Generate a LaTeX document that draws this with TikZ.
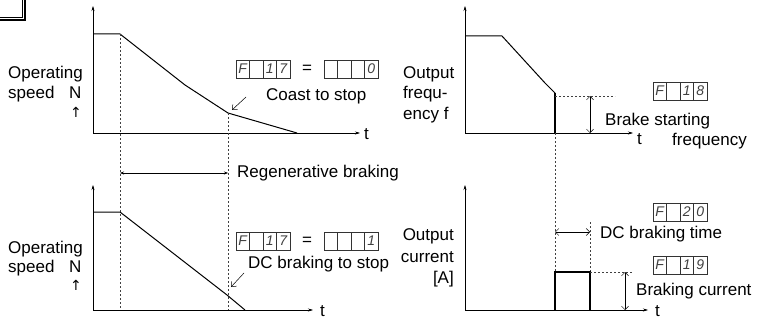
\documentclass[tikz,border=0pt]{standalone}
\usepackage{fontspec}
\setmainfont{Liberation Sans}
\newfontfamily\symfont{DejaVu Sans}
\usetikzlibrary{arrows.meta}
\newcommand\segbox[7]{%
  \node[cell,anchor=west] (#1a) at (#2,#3) {#4};
  \node[cell,anchor=west] (#1b) at (#1a.east) {#5};
  \node[cell,anchor=west] (#1c) at (#1b.east) {#6};
  \node[cell,anchor=west] (#1d) at (#1c.east) {#7};
}
\begin{document}
\begin{tikzpicture}[x=1pt,y=-1pt,
  axis/.style={line width=0.5pt,-{Stealth[length=5pt,width=3pt]}},
  curve/.style={line width=1pt,line join=round},
  guide/.style={line width=0.5pt,dash pattern=on 2pt off 2pt,black!75},
  dim/.style={line width=0.5pt,{Straight Barb[length=3.5pt,width=7pt]}-{Straight Barb[length=3.5pt,width=7pt]}},
  pointer/.style={line width=0.5pt,-{Straight Barb[length=4pt,width=7pt]}},
  lbl/.style={inner sep=0pt,font=\fontsize{17}{20}\selectfont},
  cell/.style={draw,line width=0.5pt,black!80,minimum width=13.5pt,minimum height=18pt,inner sep=0pt,outer sep=0pt,
    font=\fontsize{14}{14}\selectfont\itshape,text=black!75},
  eq/.style={inner sep=0pt,font=\fontsize{17}{17}\selectfont}
]
\useasboundingbox (0,0) rectangle (761,321);

% corner of frame
\draw[line width=1.2pt] (-5,20) -- (25,20) -- (25,-5);
\draw[line width=0.5pt] (-5,17) -- (22,17) -- (22,-5);

% ===== top left =====
\coordinate (TLo) at (93,133);
\coordinate (TLy) at (93,6);
\coordinate (TLx) at (360,133);
\draw[axis] (TLo) -- (TLy);
\draw[axis] (TLo) -- (TLx);
\node[lbl,anchor=west] (TLt) at (364,134) {t};
\draw[curve] (93,34) -- (120,34) -- (185,85) -- (228,113) -- (297,133);
\node[lbl,anchor=base west] (TLop) at (8,79) {Operating};
\node[lbl,anchor=base west] (TLsp) at (8,99) {speed};
\node[lbl,anchor=base west] (TLN) at (69,99) {N};
\node[lbl,font=\symfont\fontsize{14}{14}\selectfont] (TLup) at (76,112) {↑};
\segbox{TLf}{236}{69}{F}{}{\hfill1}{7}
\node[eq] (TLeq) at (307,69) {=};
\segbox{TLv}{324}{69}{}{}{}{0}
\node[lbl,anchor=base west] (TLcoast) at (266,101) {Coast to stop};
\coordinate (TLp1) at (246,97);
\coordinate (TLp2) at (232,110);
\draw[pointer] (TLp1) -- (TLp2);

% guides through both left charts
\draw[guide] (120,34) -- (120,310);
\draw[guide] (228,113) -- (228,310);
\coordinate (RGa) at (120,173);
\coordinate (RGb) at (228,173);
\draw[line width=0.5pt,{Stealth[length=4pt,width=3pt]}-{Stealth[length=4pt,width=3pt]}] (RGa) -- (RGb);
\node[lbl,anchor=west] (RG) at (237,173) {Regenerative braking};

% ===== bottom left =====
\coordinate (BLo) at (93,310);
\coordinate (BLy) at (93,185);
\coordinate (BLx) at (313,310);
\draw[axis] (BLo) -- (BLy);
\draw[axis] (BLo) -- (BLx);
\node[lbl,anchor=west] (BLt) at (320,311) {t};
\draw[curve] (93,212) -- (120,212) -- (227,295) -- (245,310);
\node[lbl,anchor=base west] (BLop) at (8,253) {Operating};
\node[lbl,anchor=base west] (BLsp) at (8,272) {speed};
\node[lbl,anchor=base west] (BLN) at (69,272) {N};
\node[lbl,font=\symfont\fontsize{14}{14}\selectfont] (BLup) at (76,285) {↑};
\segbox{BLf}{236}{241}{F}{}{\hfill1}{7}
\node[eq] (BLeq) at (307,241) {=};
\segbox{BLv}{324}{241}{}{}{}{1}
\node[lbl,anchor=base west] (BLdc) at (248,268) {DC braking to stop};
\coordinate (BLp1) at (244,273);
\coordinate (BLp2) at (231,287);
\draw[pointer] (BLp1) -- (BLp2);

% ===== top right =====
\coordinate (TRo) at (465,133);
\coordinate (TRy) at (465,6);
\coordinate (TRx) at (633,133);
\draw[axis] (TRo) -- (TRy);
\draw[axis] (TRo) -- (TRx);
\node[lbl,anchor=west] (TRt) at (637,139) {t};
\draw[curve] (465,36) -- (502,36) -- (545,83) -- (555,93);
\draw[line width=1.3pt] (555,93) -- (555,133);
\node[lbl,anchor=base west] (TRout) at (403,78) {Output};
\node[lbl,anchor=base west] (TRfr) at (403,99) {frequ-};
\node[lbl,anchor=base west] (TRen) at (403,119) {ency f};
\draw[guide] (555,96) -- (615,96);
\coordinate (TRd1) at (590,96);
\coordinate (TRd2) at (590,133);
\draw[dim] (TRd1) -- (TRd2);
\segbox{TRf}{653}{91}{F}{}{\hfill1}{8}
\node[lbl,anchor=base west] (TRbs) at (605,125) {Brake starting};
\node[lbl,anchor=base west] (TRfq) at (672,146) {frequency};

% ===== bottom right =====
\coordinate (BRo) at (465,310);
\coordinate (BRy) at (465,185);
\coordinate (BRx) at (648,310);
\draw[axis] (BRo) -- (BRy);
\draw[axis] (BRo) -- (BRx);
\node[lbl,anchor=west] (BRt) at (655,311) {t};
\node[lbl,anchor=base east] (BRout) at (454,240) {Output};
\node[lbl,anchor=base east] (BRcur) at (454,262) {current};
\node[lbl,anchor=base east] (BRA) at (454,283) {[A]};
\draw[guide] (555,133) -- (555,272);
\draw[guide] (590,222) -- (590,272);
\draw[line width=1.3pt] (555,310) -- (555,272) -- (590,272) -- (590,310);
\coordinate (BRt1) at (555,232);
\coordinate (BRt2) at (590,232);
\draw[dim] (BRt1) -- (BRt2);
\node[lbl,anchor=base west] (BRdct) at (600,238) {DC braking time};
\segbox{BRf}{653}{212}{F}{}{2}{0}
\draw[guide] (590,272) -- (633,272);
\coordinate (BRc1) at (625,272);
\coordinate (BRc2) at (625,310);
\draw[dim] (BRc1) -- (BRc2);
\segbox{BRg}{653}{265}{F}{}{\hfill1}{9}
\node[lbl,anchor=base west] (BRbc) at (636,295) {Braking current};
\end{tikzpicture}
\end{document}
